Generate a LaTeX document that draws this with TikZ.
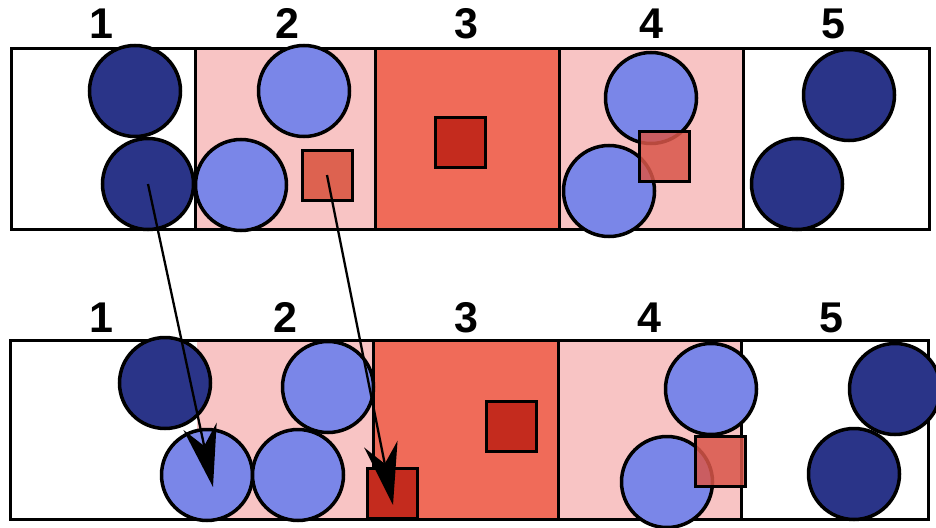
\documentclass[tikz,border=0pt]{standalone}
\usepackage{fontspec}
\setmainfont{Liberation Sans}
\usetikzlibrary{arrows.meta}
\definecolor{navyball}{HTML}{2A3488}
\definecolor{paleball}{HTML}{7A86E8}
\definecolor{pinkcell}{HTML}{F8C4C4}
\definecolor{salmoncell}{HTML}{F06B59}
\definecolor{darksq}{HTML}{C42B1E}
\definecolor{midsq}{HTML}{DD6250}
\definecolor{fadesq}{HTML}{D9564A}
\begin{document}
\begin{tikzpicture}[x=1pt,y=-1pt,
  ball/.style={circle,draw=black,line width=3.5pt,minimum size=91pt,inner sep=0pt},
  darkball/.style={ball,fill=navyball},
  paleball/.style={ball,fill=paleball},
  sqbox/.style={rectangle,draw=black,line width=3pt,minimum size=50pt,inner sep=0pt},
  deepsq/.style={sqbox,fill=darksq},
  softsq/.style={sqbox,fill=midsq},
  glasssq/.style={sqbox,fill=fadesq,fill opacity=0.85},
  frame/.style={draw=black,line width=3pt},
  numlabel/.style={anchor=base,inner sep=0pt,font=\fontsize{43}{43}\selectfont\bfseries},
  move/.style={draw=black,line width=2.3pt,-{Stealth[length=62pt 0,width=34pt 0,inset=20pt 0]}}]

\useasboundingbox (0,0) rectangle (936,527);

% ---------- upper strip ----------
\fill[pinkcell]   (195,49) rectangle (375,229);
\fill[salmoncell] (375,49) rectangle (559,229);
\fill[pinkcell]   (559,49) rectangle (743,229);
\draw[frame] (11,49) rectangle (929,229);
\draw[frame] (195,49) -- (195,229);
\draw[frame] (375,49) -- (375,229);
\draw[frame] (559,49) -- (559,229);
\draw[frame] (743,49) -- (743,229);

\node[numlabel] (ta) at (101,38) {1};
\node[numlabel] (tb) at (287,38) {2};
\node[numlabel] (tc) at (466,38) {3};
\node[numlabel] (td) at (651,38) {4};
\node[numlabel] (te) at (833,38) {5};

\node[darkball] (u1a) at (135,91) {};
\node[darkball] (u1b) at (148,184) {};
\node[paleball] (u2a) at (304,91) {};
\node[paleball] (u2b) at (241,185) {};
\node[softsq]   (u2s) at (327,175) {};
\node[deepsq]   (u3s) at (460,142) {};
\node[paleball] (u4a) at (651,98) {};
\node[paleball] (u4b) at (609,191) {};
\node[glasssq]  (u4s) at (664,156) {};
\node[darkball] (u5a) at (849,95) {};
\node[darkball] (u5b) at (797,184) {};

% ---------- lower strip ----------
\fill[pinkcell]   (197,340) rectangle (373,519);
\fill[salmoncell] (373,340) rectangle (558,519);
\fill[pinkcell]   (558,340) rectangle (741,519);
\draw[frame] (10,340) rectangle (928,519);
\draw[frame] (373,340) -- (373,519);
\draw[frame] (558,340) -- (558,519);
\draw[frame] (741,340) -- (741,519);

\node[numlabel] (ba) at (101,332) {1};
\node[numlabel] (bb) at (285,332) {2};
\node[numlabel] (bc) at (466,332) {3};
\node[numlabel] (bd) at (649,332) {4};
\node[numlabel] (be) at (831,332) {5};

\node[darkball] (l1a) at (165,383) {};
\node[paleball] (l2a) at (207,475) {};
\node[paleball] (l2b) at (298,475) {};
\node[paleball] (l2c) at (328,387) {};
\node[deepsq]   (l3a) at (392,493) {};
\node[deepsq]   (l3s) at (511,426) {};
\node[paleball] (l4a) at (711,389) {};
\node[paleball] (l4b) at (667,482) {};
\node[glasssq]  (l4s) at (720,461) {};
\node[darkball] (l5a) at (895,389) {};
\node[darkball] (l5b) at (854,474) {};

% ---------- moves between the strips ----------
\coordinate (tipball) at (213,487);
\coordinate (tipsq) at (393,505);
\draw[move] (u1b.center) -- (tipball);
\draw[move] (u2s.center) -- (tipsq);
\end{tikzpicture}
\end{document}
